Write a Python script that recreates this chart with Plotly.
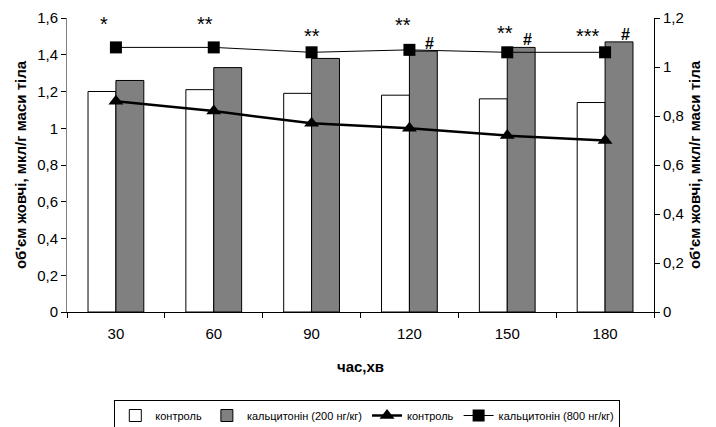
import plotly.graph_objects as go

categories = ["30", "60", "90", "120", "150", "180"]
control_bars = [1.20, 1.21, 1.19, 1.18, 1.16, 1.14]
calc200_bars = [1.26, 1.33, 1.38, 1.42, 1.44, 1.47]
control_line = [0.86, 0.82, 0.77, 0.75, 0.72, 0.70]
calc800_line = [1.08, 1.08, 1.06, 1.07, 1.06, 1.06]
star_labels = ["*", "**", "**", "**", "**", "***"]
hash_labels = ["", "", "", "#", "#", "#"]

star_xshift = [-12, -9, 0, -6, -2, -17]
star_yshift = [10, 10, 3, 12, 6, 3]

FONT = "Liberation Sans, Arial, sans-serif"
ytitle = "об'єм жовчі, мкл/г маси тіла"

fig = go.Figure()
fig.add_trace(go.Bar(x=categories, y=control_bars, name="контроль",
                     marker=dict(color="white", line=dict(color="black", width=1))))
fig.add_trace(go.Bar(x=categories, y=calc200_bars, name="кальцитонін (200 нг/кг)",
                     marker=dict(color="#808080", line=dict(color="black", width=1))))
fig.add_trace(go.Scatter(x=categories, y=control_line, name="контроль", yaxis="y2",
                         mode="lines+markers",
                         line=dict(color="black", width=2.5),
                         marker=dict(symbol="triangle-up", size=13, color="black")))
fig.add_trace(go.Scatter(x=categories, y=calc800_line, name="кальцитонін (800 нг/кг)", yaxis="y2",
                         mode="lines+markers",
                         line=dict(color="black", width=1),
                         marker=dict(symbol="square", size=12, color="black")))

annotations = []
for i, (v, s, dx, dy) in enumerate(zip(calc800_line, star_labels, star_xshift, star_yshift)):
    annotations.append(dict(x=i, y=v, xref="x", yref="y2", text=s, showarrow=False,
                            xshift=dx, yshift=dy, yanchor="bottom",
                            font=dict(family=FONT, size=20, color="black")))
for i, (v, s) in enumerate(zip(calc200_bars, hash_labels)):
    if s:
        annotations.append(dict(x=i, y=v, xref="x", yref="y", text="<b>" + s + "</b>", showarrow=False,
                                xshift=20, yshift=-3, yanchor="bottom",
                                font=dict(family=FONT, size=16, color="black")))

fig.update_layout(
    width=716, height=427,
    margin=dict(l=67, r=62, t=18, b=115, autoexpand=False),
    paper_bgcolor="white", plot_bgcolor="white",
    font=dict(family=FONT, size=15, color="black"),
    separators=", ",
    barmode="group", bargap=0.43, bargroupgap=0,
    showlegend=True,
    legend=dict(orientation="h", xref="container", yref="container",
                x=0.513, xanchor="center", y=1 - 400 / 427, yanchor="top",
                bordercolor="black", borderwidth=1, font=dict(size=11),
                itemwidth=30, tracegroupgap=0),
    xaxis=dict(type="category", range=[-0.5, len(categories) - 0.5], automargin=False,
               showline=True, linecolor="black", linewidth=1,
               ticks="outside", ticklen=5, tickcolor="black", tickson="boundaries",
               ticklabelstandoff=8,
               title=dict(text="<b>час,хв</b>", font=dict(size=15), standoff=20),
               showgrid=False, zeroline=False),
    yaxis=dict(range=[0, 1.6], dtick=0.2, showline=True, linecolor="#808080", linewidth=1,
               automargin=False,
               ticks="outside", ticklen=5, tickcolor="black", showgrid=False, zeroline=False,
               title=dict(text="<b>" + ytitle + "</b>", font=dict(size=15), standoff=6)),
    yaxis2=dict(range=[0, 1.2], dtick=0.2, overlaying="y", side="right", showline=True,
                automargin=False,
                linecolor="black", linewidth=1, ticks="outside", ticklen=5, tickcolor="black",
                showgrid=False, zeroline=False,
                title=dict(text="<b>" + ytitle + "</b>", font=dict(size=15), standoff=6)),
    annotations=annotations,
)

fig.write_html("out.html", config={"displayModeBar": False},
               post_script="document.body.style.margin='0';")
